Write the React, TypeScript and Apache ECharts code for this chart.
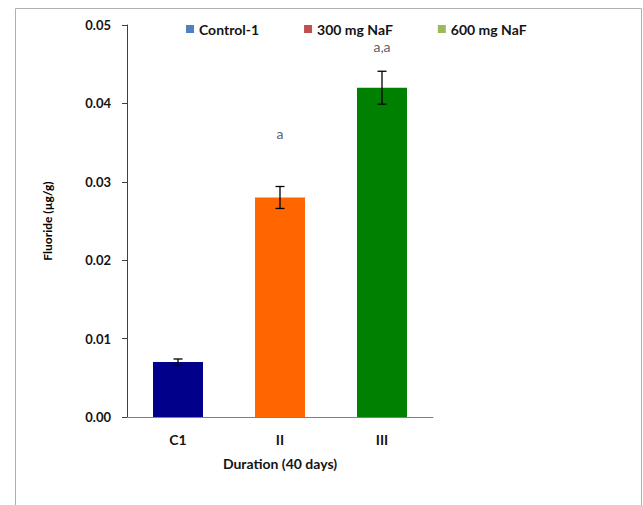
import React, { useEffect, useRef } from "react";
import * as echarts from "echarts";

const categories = ["C1", "II", "III"];
const seriesNames = ["Control-1", "300 mg NaF", "600 mg NaF"];
const legendColors = ["#4F81BD", "#C0504D", "#9BBB59"];
const barColors = ["#00008B", "#FF6600", "#008000"];
const values = [0.007, 0.028, 0.042];
const errors = [0.0004, 0.0014, 0.0021];
const annotations = ["", "a", "a,a"];
const annotationY = [0, 0.0362, 0.0473];
const yTicks = [0, 0.01, 0.02, 0.03, 0.04, 0.05];

const FONT = "Lato, 'Open Sans', sans-serif";
const TXT = "#141414";

export default function App() {
  const ref = useRef<HTMLDivElement>(null);
  useEffect(() => {
    if (!ref.current) return;
    const chart = echarts.init(ref.current, null, { renderer: "svg" });

    const barSeries = seriesNames.map((name, si) => ({
      name,
      type: "bar",
      stack: "all",
      barWidth: "49%",
      itemStyle: { color: legendColors[si] },
      data: categories.map((_, ci) =>
        ci === si
          ? { value: values[ci], itemStyle: { color: barColors[ci] } }
          : "-"
      ),
    }));

    chart.setOption({
      animation: false,
      textStyle: { fontFamily: FONT },
      graphic: [
        {
          type: "rect",
          shape: { x: 15.5, y: 8.5, width: 626, height: 600 },
          style: { fill: "none", stroke: "#b0b0b0", lineWidth: 1 },
          silent: true,
        },
      ],
      legend: {
        top: 17,
        left: 181,
        itemWidth: 8,
        itemHeight: 8,
        itemGap: 45,
        icon: "rect",
        data: seriesNames,
        textStyle: { fontFamily: FONT, fontWeight: "bold", fontSize: 14, color: TXT },
      },
      grid: { left: 127, right: 210, top: 25, bottom: 88, containLabel: false },
      xAxis: {
        type: "category",
        data: categories,
        name: "Duration (40 days)",
        nameLocation: "middle",
        nameGap: 39,
        nameTextStyle: { fontFamily: FONT, fontWeight: "bold", fontSize: 14, color: TXT },
        axisLine: { show: true, lineStyle: { color: "#808080", width: 1 } },
        axisTick: { show: false },
        axisLabel: { margin: 15, fontFamily: FONT, fontWeight: "bold", fontSize: 14, color: TXT },
      },
      yAxis: {
        type: "value",
        min: 0,
        max: 0.05,
        interval: 0.01,
        name: "Fluoride (µg/g)",
        nameLocation: "middle",
        nameGap: 74,
        nameTextStyle: { fontFamily: FONT, fontWeight: "bold", fontSize: 12, color: "#000" },
        axisLine: { show: true, lineStyle: { color: "#404040", width: 1 } },
        axisTick: { show: true, inside: false, length: 5, lineStyle: { color: "#404040" } },
        splitLine: { show: false },
        axisLabel: {
          margin: 16,
          fontFamily: FONT,
          fontWeight: "bold",
          fontSize: 13,
          color: TXT,
          formatter: (v: number) => (yTicks.includes(Math.round(v * 100) / 100) ? v.toFixed(2) : ""),
        },
      },
      series: [
        ...barSeries,
        {
          name: "errors",
          type: "custom",
          z: 10,
          data: categories.map((_, i) => [i, values[i] - errors[i], values[i] + errors[i]]),
          renderItem: (params: any, api: any) => {
            const x = api.coord([api.value(0), 0])[0];
            const lo = api.coord([api.value(0), api.value(1)])[1];
            const hi = api.coord([api.value(0), api.value(2)])[1];
            const hw = 4.5;
            const st = { stroke: "#000", lineWidth: 1.3 };
            return {
              type: "group",
              children: [
                { type: "line", shape: { x1: x, y1: lo, x2: x, y2: hi }, style: st },
                { type: "line", shape: { x1: x - hw, y1: lo, x2: x + hw, y2: lo }, style: st },
                { type: "line", shape: { x1: x - hw, y1: hi, x2: x + hw, y2: hi }, style: st },
              ],
            };
          },
        },
        {
          name: "annotations",
          type: "scatter",
          symbolSize: 0,
          data: categories.map((_, i) => ({
            value: [i, annotationY[i]],
            label: {
              show: annotations[i] !== "",
              formatter: annotations[i],
              position: "inside",
              fontFamily: FONT,
              fontSize: 14,
              color: "#333",
            },
          })),
        },
      ],
    });
    return () => chart.dispose();
  }, []);
  return (
    <div
      ref={ref}
      style={{ position: "fixed", left: 0, top: 0, width: 643, height: 505, background: "#fff" }}
    />
  );
}
